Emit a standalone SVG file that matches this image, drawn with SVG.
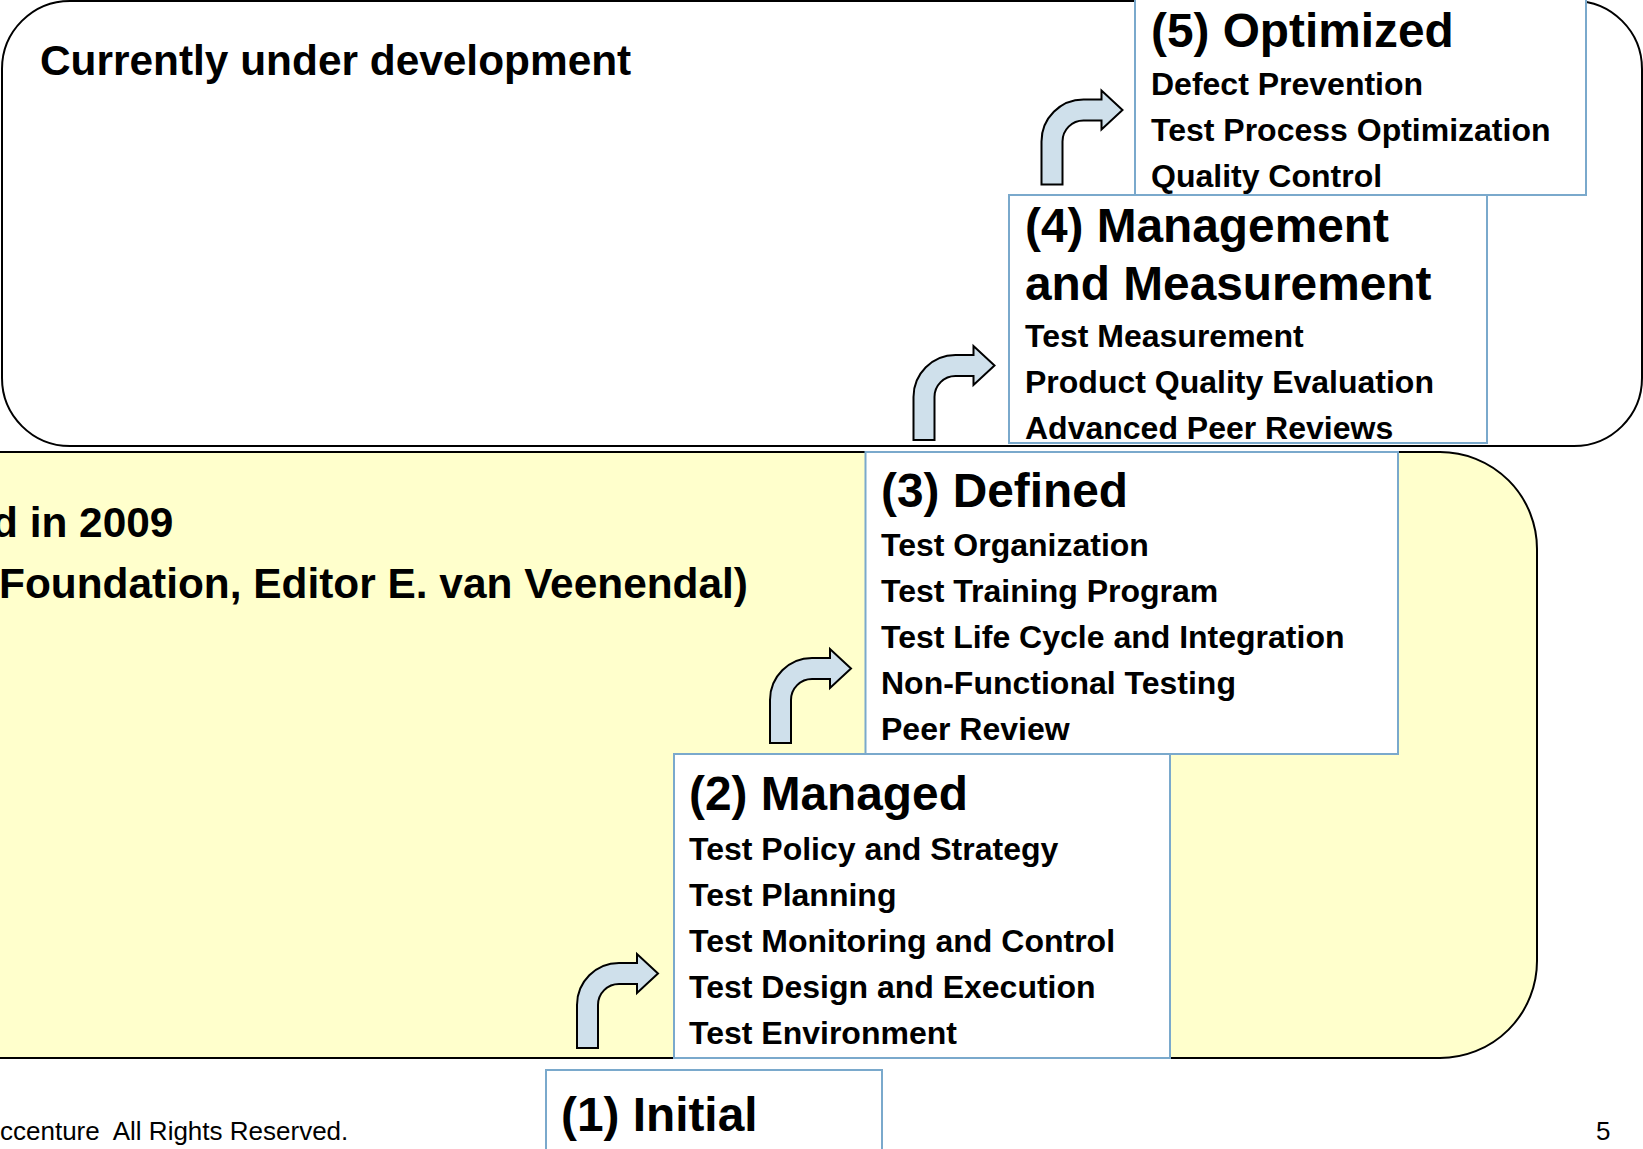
<svg xmlns="http://www.w3.org/2000/svg" xmlns:xlink="http://www.w3.org/1999/xlink" width="1643" height="1149" viewBox="0 0 1643 1149">
<style>
  .zone { stroke: #000; stroke-width: 2; }
  .box { fill: #fff; stroke: #7AA9CC; stroke-width: 2; }
  .title { font-family: "Liberation Sans", Arial, sans-serif; font-weight: bold; font-size: 47.8px; fill: #000; }
  .item { font-family: "Liberation Sans", Arial, sans-serif; font-weight: bold; font-size: 32px; fill: #000; }
  .big { font-family: "Liberation Sans", Arial, sans-serif; font-weight: bold; font-size: 42.4px; fill: #000; }
  .foot { font-family: "Liberation Sans", Arial, sans-serif; font-size: 26px; fill: #000; white-space: pre; }
  .arrow { fill: #CFE0EB; stroke: #000; stroke-width: 2; stroke-linejoin: miter; }
</style>
<defs>
  <path id="bentArrow" d="M 0 0 L 0 -43 A 42 42 0 0 1 42 -85 L 60 -85 L 60 -94 L 81 -74.5 L 60 -55 L 60 -64 L 42 -64 A 21 21 0 0 0 21 -43 L 21 0 Z"/>
</defs>
<rect width="1643" height="1149" fill="#fff"/>

<g id="zone-development">
  <rect class="zone" x="2" y="1" width="1640" height="445" rx="68" ry="68" fill="#fff"/>
  <text class="big" x="40" y="75">Currently under development</text>
</g>

<g id="zone-released">
  <rect class="zone" x="-200" y="452" width="1737" height="606" rx="97" ry="97" fill="#FFFFCC" stroke-width="2.5"/>
  <text class="big" x="-8" y="537">d in 2009</text>
  <text class="big" x="-1" y="598">Foundation, Editor E. van Veenendal)</text>
</g>

<g id="connectors">
  <use xlink:href="#bentArrow" class="arrow" transform="translate(577,1048)"/>
  <use xlink:href="#bentArrow" class="arrow" transform="translate(770,743)"/>
  <use xlink:href="#bentArrow" class="arrow" transform="translate(913.5,440)"/>
  <use xlink:href="#bentArrow" class="arrow" transform="translate(1041.5,184.5)"/>
</g>

<g id="level5">
  <rect class="box" x="1135" y="-10" width="451" height="205"/>
  <text class="title" x="1151" y="47">(5) Optimized</text>
  <text class="item" x="1151" y="95">Defect Prevention</text>
  <text class="item" x="1151" y="141">Test Process Optimization</text>
  <text class="item" x="1151" y="187">Quality Control</text>
</g>

<g id="level4">
  <rect class="box" x="1009" y="195" width="478" height="248"/>
  <text class="title" x="1025" y="242">(4) Management</text>
  <text class="title" x="1025" y="300">and Measurement</text>
  <text class="item" x="1025" y="347">Test Measurement</text>
  <text class="item" x="1025" y="393">Product Quality Evaluation</text>
  <text class="item" x="1025" y="439">Advanced Peer Reviews</text>
</g>

<g id="level3">
  <rect class="box" x="865.5" y="452" width="532.5" height="302"/>
  <text class="title" x="881" y="507">(3) Defined</text>
  <text class="item" x="881" y="556">Test Organization</text>
  <text class="item" x="881" y="602">Test Training Program</text>
  <text class="item" x="881" y="648">Test Life Cycle and Integration</text>
  <text class="item" x="881" y="694">Non-Functional Testing</text>
  <text class="item" x="881" y="740">Peer Review</text>
</g>

<g id="level2">
  <rect class="box" x="674" y="754" width="496" height="304"/>
  <text class="title" x="689" y="810">(2) Managed</text>
  <text class="item" x="689" y="860">Test Policy and Strategy</text>
  <text class="item" x="689" y="906">Test Planning</text>
  <text class="item" x="689" y="952">Test Monitoring and Control</text>
  <text class="item" x="689" y="998">Test Design and Execution</text>
  <text class="item" x="689" y="1044">Test Environment</text>
</g>

<g id="level1">
  <rect class="box" x="546" y="1070" width="336" height="100"/>
  <text class="title" x="561" y="1131">(1) Initial</text>
</g>

<g id="footer">
  <text class="foot" x="0" y="1140">ccenture  All Rights Reserved.</text>
  <text class="foot" x="1596" y="1140">5</text>
</g>
</svg>
